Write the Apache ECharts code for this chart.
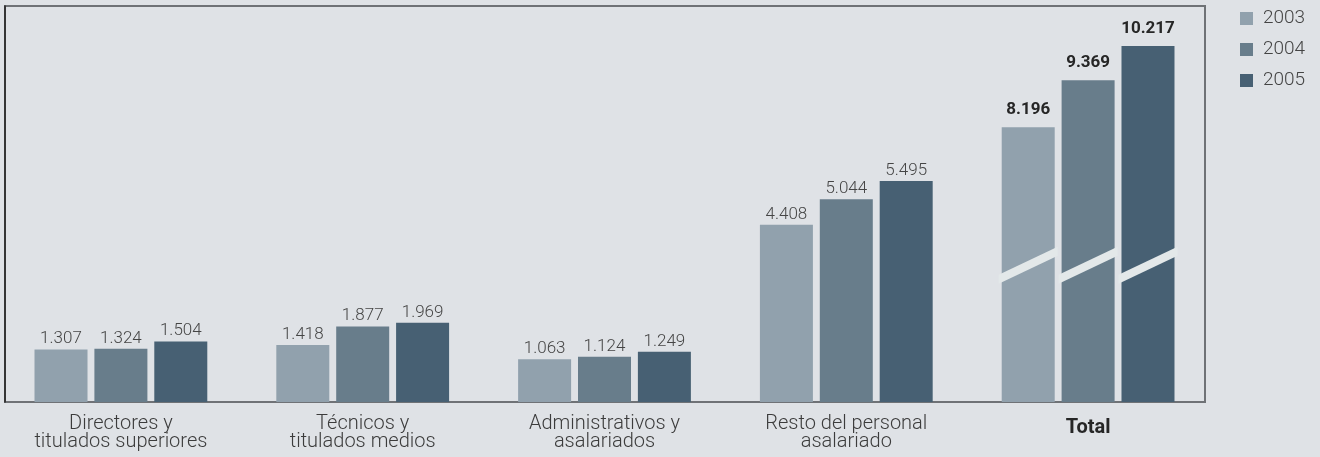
<!DOCTYPE html>
<html>
<head>
<meta charset="utf-8">
<script src="https://cdn.jsdelivr.net/npm/echarts@6/dist/echarts.min.js"></script>
<style>
  html, body { margin: 0; padding: 0; background: #dfe2e6; }
</style>
</head>
<body>

<div id="main" style="width: 1320px;height:457px;"></div>

<script type="text/javascript">
    // categorías del eje x
    var categories = ['Directores y\ntitulados superiores', 'Técnicos y\ntitulados medios',
        'Administrativos y\nasalariados', 'Resto del personal\nasalariado', 'Total'];
    var years = ['2003', '2004', '2005'];
    var values2003 = [1307, 1418, 1063, 4408, 8196];
    var values2004 = [1324, 1877, 1124, 5044, 9369];
    var values2005 = [1504, 1969, 1249, 5495, 10217];
    var colors = ['#91a1ad', '#687d8b', '#476073'];

    // las barras del total van con el eje cortado: se quita este tramo
    var BREAK_GAP = 1365;
    var BREAK_MARK = 3400;
    var TOTAL_INDEX = 4;

    var BAR_W = 53;
    var fontFamily = 'Roboto, "Noto Sans", sans-serif';

    function fmt(v) {
        return (v / 1000).toFixed(3);
    }

    function makeSeries(name, values, idx) {
        return {
            name: name,
            type: 'bar',
            xAxisIndex: 0,
            yAxisIndex: 0,
            barWidth: BAR_W,
            barGap: '13%',
            itemStyle: { color: colors[idx] },
            label: {
                show: true,
                position: 'top',
                distance: 2,
                fontFamily: fontFamily,
                fontSize: 17,
                fontWeight: 300,
                color: '#454545',
                formatter: function (p) { return fmt(p.data.raw); }
            },
            data: values.map(function (v, i) {
                if (i === TOTAL_INDEX) {
                    return {
                        value: v - BREAK_GAP,
                        raw: v,
                        label: { fontWeight: 'bold', color: '#262626', distance: 9 }
                    };
                }
                return { value: v, raw: v };
            })
        };
    }

    var myChart = echarts.init(document.getElementById('main'));

    var option = {
        backgroundColor: '#dfe2e6',
        animation: false,
        legend: {
            data: years,
            orient: 'vertical',
            left: 1235,
            top: 4,
            itemWidth: 13,
            itemHeight: 13,
            itemGap: 12,
            icon: 'rect',
            textStyle: {
                fontFamily: fontFamily,
                fontSize: 19,
                fontWeight: 300,
                color: '#444',
                padding: [0, 0, 0, 5]
            }
        },
        grid: [
            // rejilla de las barras
            { left: -1, width: 1210, top: 6, height: 396 },
            // marco
            { left: 5, width: 1200, top: 6, height: 396, show: true,
              borderColor: '#6f7276', borderWidth: 2, backgroundColor: 'transparent' }
        ],
        xAxis: [
            {
                gridIndex: 0,
                type: 'category',
                data: categories,
                axisLine: { show: false },
                axisTick: { show: false },
                axisLabel: {
                    interval: 0,
                    margin: 13,
                    fontFamily: fontFamily,
                    fontSize: 20,
                    fontWeight: 300,
                    lineHeight: 18,
                    color: '#3c3c3c',
                    formatter: function (v) {
                        return v === 'Total' ? '{b|Total}' : v;
                    },
                    rich: {
                        b: { fontFamily: fontFamily, fontSize: 20, fontWeight: 'bold',
                             color: '#262626', padding: [7, 0, 0, 0] }
                    }
                }
            },
            { gridIndex: 1, type: 'value', show: false }
        ],
        yAxis: [
            {
                gridIndex: 0,
                type: 'value',
                min: 0,
                max: 9850,
                show: false
            },
            {
                gridIndex: 1,
                type: 'value',
                position: 'right',
                axisLine: { show: true, lineStyle: { color: '#222', width: 1.5 } },
                axisTick: { show: false },
                axisLabel: { show: false },
                splitLine: { show: false }
            }
        ],
        series: [
            makeSeries(years[0], values2003, 0),
            makeSeries(years[1], values2004, 1),
            makeSeries(years[2], values2005, 2),
            {
                // marca de corte sobre las barras del total
                type: 'custom',
                xAxisIndex: 0,
                yAxisIndex: 0,
                z: 5,
                silent: true,
                data: [[TOTAL_INDEX, BREAK_MARK, 0], [TOTAL_INDEX, BREAK_MARK, 1], [TOTAL_INDEX, BREAK_MARK, 2]],
                renderItem: function (params, api) {
                    var c = api.coord([api.value(0), api.value(1)]);
                    var k = api.value(2);
                    var step = BAR_W * 1.13;
                    var cx = c[0] + (k - 1) * step;
                    var cy = c[1];
                    var half = BAR_W / 2 + 3;
                    var rise = 14;
                    var t = 4.5;
                    return {
                        type: 'polygon',
                        shape: {
                            points: [
                                [cx - half, cy + rise - t],
                                [cx + half, cy - rise - t],
                                [cx + half, cy - rise + t],
                                [cx - half, cy + rise + t]
                            ]
                        },
                        style: { fill: '#e3e8e9' }
                    };
                }
            }
        ]
    };

    myChart.setOption(option);
</script>

</body>
</html>
